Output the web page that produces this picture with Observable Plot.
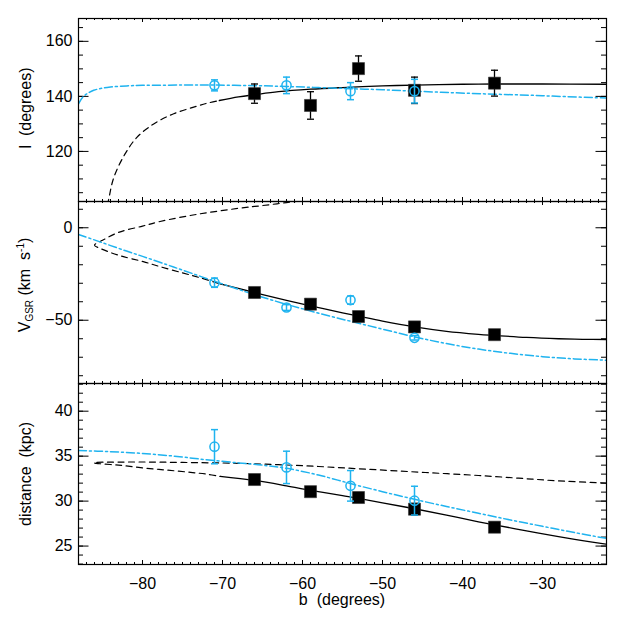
<!DOCTYPE html>
<html>
<head>
<meta charset="utf-8">
<script src="https://cdn.jsdelivr.net/npm/d3@7"></script>
<script src="https://cdn.jsdelivr.net/npm/@observablehq/plot@0.6"></script>
<style>
  body { margin: 0; background: #fff; }
  #chart { position: relative; width: 623px; height: 623px; background: #fff; font-family: "Liberation Sans", Arial, sans-serif; }
  #chart svg { position: absolute; left: 0; }
</style>
</head>
<body>
<div id="chart"></div>
<script>
// ---------- shared x axis ----------
const bDomain = [-88, -22];
const xTickLabels = [-80, -70, -60, -50, -40, -30];

// ---------- observations ----------
const sqB = [-66, -59, -53, -46, -36];          // black squares
const ciB = [-71, -62, -54, -46];               // cyan open circles

// Panel 1: l (degrees)
const lSqVal = [141.0, 136.7, 150.1, 142.2, 144.8];
const lSqErr = [3.5, 5.0, 4.6, 4.8, 4.7];
const lCiVal = [144.0, 144.0, 141.9, 141.9];
const lCiErr = [2.0, 3.0, 3.1, 4.3];

// Panel 2: V_GSR (km/s)
const vSqVal = [-35.0, -41.3, -48.0, -53.6, -57.8];
const vSqErr = [1.5, 1.5, 1.5, 1.5, 1.5];
const vCiVal = [-29.7, -43.1, -39.1, -59.5];
const vCiErr = [2.5, 1.6, 2.2, 1.2];

// Panel 3: distance (kpc)
const dSqVal = [32.4, 31.05, 30.4, 29.1, 27.1];
const dSqErr = [0.3, 0.3, 0.3, 0.65, 0.45];
const dCiVal = [36.05, 33.75, 31.7, 30.05];
const dCiErr = [1.9, 1.8, 1.7, 1.6];

// ---------- model curves ----------
// Panel 1
const lFitB = [-70.4, -68, -66, -63, -59, -55, -50, -46, -40, -36, -30, -22];
const lFitVal = [138.5, 139.8, 140.6, 141.7, 142.6, 143.2, 143.8, 144.1, 144.4, 144.5, 144.5, 144.4];
const lExtB = [-85.0, -84.3, -83.6, -82.2, -80.7, -78.6, -76.1, -73.6, -71.95, -70.4];
const lExtVal = [93.0, 101.6, 110.4, 119.0, 125.1, 130.0, 133.7, 136.1, 137.5, 138.5];
const lModB = [-88, -87.5, -86.9, -86.1, -85, -84, -82, -80, -75, -71, -66, -62, -58, -54, -50, -46, -41, -36, -31.5, -27, -22];
const lModVal = [137.3, 139.6, 141.0, 142.2, 143.0, 143.4, 143.8, 144.0, 144.1, 144.1, 143.9, 143.6, 143.2, 142.8, 142.4, 141.9, 141.3, 140.8, 140.4, 139.9, 139.4];

// Panel 2
const vFitB = [-70.3, -66, -62, -59, -55, -53, -50, -46, -42, -38, -36, -32, -28, -25, -22];
const vFitVal = [-30.3, -35.0, -39.2, -42.2, -46.0, -47.8, -50.5, -53.6, -56.0, -57.6, -58.2, -59.3, -60.0, -60.3, -60.4];
const vExtB = [-59, -62, -65, -68, -73, -77.8, -80, -83, -85.0, -86.0, -85.2, -82.9, -79.9, -77.9, -75, -72.9, -70.3];
const vExtVal = [15.2, 13.6, 12.0, 10.5, 7.4, 3.4, 0.9, -2.5, -6.8, -9.4, -11.3, -15.0, -18.3, -20.9, -24.4, -26.9, -30.3];
const vModB = [-88, -85, -82, -79.9, -77, -75, -71, -68, -66, -62, -59, -56, -53, -50, -46, -42, -38, -34, -30, -26, -22];
const vModVal = [-3.6, -8.1, -12.6, -15.6, -19.9, -22.9, -28.9, -33.3, -36.2, -41.4, -45.0, -48.4, -51.6, -54.8, -59.0, -62.6, -65.6, -67.9, -69.7, -70.9, -71.6];

// Panel 3
const dFitB = [-70.3, -66, -62, -59, -55, -53, -50, -46, -42, -38, -36, -32, -28, -25, -22];
const dFitVal = [32.75, 32.3, 31.7, 31.2, 30.6, 30.3, 29.8, 29.15, 28.45, 27.7, 27.35, 26.7, 26.05, 25.6, 25.2];
const dExtB = [-22, -28, -33, -38, -43, -48, -53, -58, -63, -68, -75, -80, -84, -85.8, -86.1, -85.8, -83, -80, -77, -74, -72, -70.3];
const dExtVal = [32.0, 32.25, 32.55, 32.85, 33.1, 33.35, 33.6, 33.85, 34.05, 34.2, 34.3, 34.35, 34.33, 34.3, 34.25, 34.2, 34.0, 33.7, 33.45, 33.2, 33.0, 32.75];
const dModB = [-88, -84, -80, -76, -72, -68, -65, -62, -58, -54, -50, -46, -42, -38, -34, -30, -26, -22];
const dModVal = [35.62, 35.5, 35.3, 35.0, 34.6, 34.25, 34.0, 33.65, 32.9, 31.95, 31.05, 30.2, 29.4, 28.65, 27.9, 27.2, 26.5, 25.85];

// ---------- axis ticks ----------
const l_yLabels = [120, 140, 160];
const v_yLabels = [-50, 0];
const d_yLabels = [25, 30, 35, 40];

const CYAN = "#1fb3ef";
const W = 623 - 78 - 17;
const fmt = d3.format("d");

const pts = (bs, vs, es) => bs.map((b, i) => ({b, v: vs[i], e: es ? es[i] : 0}));
const capSymbol = { draw(ctx, size) { const r = Math.sqrt(size / Math.PI); ctx.moveTo(-r, 0); ctx.lineTo(r, 0); } };

function panel(cfg) {
  const h = cfg.svgH - cfg.mt - cfg.mb;
  const xMinor = d3.range(-88, -21.5, 1);
  const sq = pts(sqB, cfg.sqVal, cfg.sqErr);
  const ci = pts(ciB, cfg.ciVal, cfg.ciErr);
  const marks = [
    // inward ticks (x on bottom & top, y on left & right)
    Plot.tickX(xMinor, {x: d => d, insetTop: h - 2, stroke: "black"}),
    Plot.tickX(xMinor, {x: d => d, insetBottom: h - 2, stroke: "black"}),
    Plot.tickX(xTickLabels, {x: d => d, insetTop: h - 4, stroke: "black"}),
    Plot.tickX(xTickLabels, {x: d => d, insetBottom: h - 4, stroke: "black"}),
    Plot.tickY(cfg.yMinor, {y: d => d, insetRight: W - 5, stroke: "black"}),
    Plot.tickY(cfg.yMinor, {y: d => d, insetLeft: W - 5, stroke: "black"}),
    Plot.tickY(cfg.yLabels, {y: d => d, insetRight: W - 10.5, stroke: "black"}),
    Plot.tickY(cfg.yLabels, {y: d => d, insetLeft: W - 10.5, stroke: "black"}),
    // model curves
    Plot.line(pts(cfg.extB, cfg.extVal), {x: "b", y: "v", stroke: "black", strokeWidth: 1.2, strokeDasharray: "6,4.5", curve: "catmull-rom", clip: true}),
    Plot.line(pts(cfg.fitB, cfg.fitVal), {x: "b", y: "v", stroke: "black", strokeWidth: 1.3, curve: "catmull-rom", clip: true}),
    Plot.line(pts(cfg.modB, cfg.modVal), {x: "b", y: "v", stroke: CYAN, strokeWidth: 1.5, strokeDasharray: "8,3,2,3", curve: "catmull-rom", clip: true}),
    // black squares with error bars
    Plot.ruleX(sq, {x: "b", y1: d => d.v - d.e, y2: d => d.v + d.e, stroke: "black", strokeWidth: 1.3}),
    Plot.dot(sq, {x: "b", y: d => d.v + d.e, symbol: capSymbol, r: 3.5, stroke: "black", fill: "none", strokeWidth: 1.3}),
    Plot.dot(sq, {x: "b", y: d => d.v - d.e, symbol: capSymbol, r: 3.5, stroke: "black", fill: "none", strokeWidth: 1.3}),
    Plot.dot(sq, {x: "b", y: "v", symbol: "square", r: 6.8, fill: "black", stroke: "#333", strokeWidth: 0.6}),
    // cyan open circles with error bars
    Plot.ruleX(ci, {x: "b", y1: d => d.v - d.e, y2: d => d.v + d.e, stroke: CYAN, strokeWidth: 1.5}),
    Plot.dot(ci, {x: "b", y: d => d.v + d.e, symbol: capSymbol, r: 3.5, stroke: CYAN, fill: "none", strokeWidth: 1.5}),
    Plot.dot(ci, {x: "b", y: d => d.v - d.e, symbol: capSymbol, r: 3.5, stroke: CYAN, fill: "none", strokeWidth: 1.5}),
    Plot.dot(ci, {x: "b", y: "v", r: 4.6, stroke: CYAN, fill: "none", strokeWidth: 1.5}),
    Plot.frame({stroke: "black", strokeWidth: 1.2})
  ];
  const svg = Plot.plot({
    width: 623, height: cfg.svgH,
    marginLeft: 78, marginRight: 17, marginTop: cfg.mt, marginBottom: cfg.mb,
    x: cfg.showX
      ? {domain: bDomain, ticks: xTickLabels, tickSize: 0, tickPadding: 13, tickFormat: fmt, label: null}
      : {domain: bDomain, axis: null},
    y: {domain: cfg.yDomain, ticks: cfg.yLabels, tickSize: 0, tickPadding: 6, tickFormat: fmt, label: null},
    style: {background: "none", fontSize: "16px", fontFamily: "'Liberation Sans', Arial, sans-serif", color: "black", overflow: "visible"},
    marks
  });
  svg.style.top = cfg.top + "px";
  return svg;
}

const chart = document.getElementById("chart");

const p1 = panel({top: 0, svgH: 211, mt: 18, mb: 10, yDomain: [101.8, 168.3],
  yLabels: l_yLabels, yMinor: d3.range(105, 168, 5),
  sqVal: lSqVal, sqErr: lSqErr, ciVal: lCiVal, ciErr: lCiErr,
  fitB: lFitB, fitVal: lFitVal, extB: lExtB, extVal: lExtVal, modB: lModB, modVal: lModVal});
const p2 = panel({top: 191, svgH: 202, mt: 10, mb: 10, yDomain: [-84.2, 14.2],
  yLabels: v_yLabels, yMinor: d3.range(-80, 14, 10),
  sqVal: vSqVal, sqErr: vSqErr, ciVal: vCiVal, ciErr: vCiErr,
  fitB: vFitB, fitVal: vFitVal, extB: vExtB, extVal: vExtVal, modB: vModB, modVal: vModVal});
const p3 = panel({top: 373, svgH: 250, mt: 10, mb: 59, yDomain: [22.95, 43.08], showX: true,
  yLabels: d_yLabels, yMinor: d3.range(23, 43.5, 1),
  sqVal: dSqVal, sqErr: dSqErr, ciVal: dCiVal, ciErr: dCiErr,
  fitB: dFitB, fitVal: dFitVal, extB: dExtB, extVal: dExtVal, modB: dModB, modVal: dModVal});

chart.append(p1, p2, p3);

// ---------- axis titles ----------
function ytitle(svg, cx, cy) {
  return d3.select(svg).append("text")
    .attr("transform", `translate(${cx},${cy}) rotate(-90)`)
    .attr("text-anchor", "middle")
    .attr("fill", "black")
    .style("font-size", "16px");
}
ytitle(p1, 31, 108).text("l  (degrees)");
const vt = ytitle(p2, 30, 94);
vt.append("tspan").text("V");
vt.append("tspan").attr("dy", 3).style("font-size", "10px").text("GSR");
vt.append("tspan").attr("dy", -3).text(" (km  s");
vt.append("tspan").attr("dy", -6).style("font-size", "10px").text("-1");
vt.append("tspan").attr("dy", 6).text(")");
ytitle(p3, 31, 101).text("distance  (kpc)");
d3.select(p3).append("text")
  .attr("x", 342).attr("y", 232)
  .attr("text-anchor", "middle").attr("fill", "black")
  .style("font-size", "16px")
  .text("b  (degrees)");
</script>
</body>
</html>
